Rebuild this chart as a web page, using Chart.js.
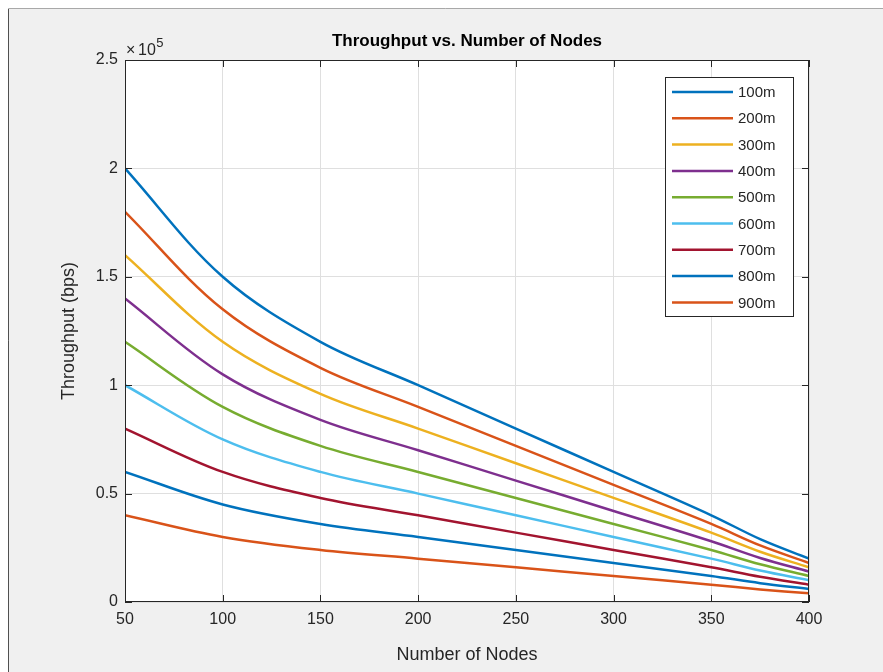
<!DOCTYPE html>
<html>
<head>
<meta charset="utf-8">
<style>
  html, body { margin: 0; padding: 0; background: #ffffff; }
  #wrap { width: 883px; height: 672px; }
</style>
<script src="https://cdn.jsdelivr.net/npm/chart.js@4/dist/chart.umd.min.js"></script>
</head>
<body>
<div id="wrap"><canvas id="chart" width="883" height="672"></canvas></div>
<script>
// Number of nodes (x) and throughput in bps for each transmission range
const nodes = [50, 100, 150, 200, 250, 300, 350, 375, 400];
const seriesNames = ['100m', '200m', '300m', '400m', '500m', '600m', '700m', '800m', '900m'];
const thr100 = [200000, 150000, 120000, 100000, 80000, 60000, 40000, 29000, 20000];
const thr200 = [180000, 135000, 108000, 90000, 72000, 54000, 36000, 26100, 18000];
const thr300 = [160000, 120000, 96000, 80000, 64000, 48000, 32000, 23200, 16000];
const thr400 = [140000, 105000, 84000, 70000, 56000, 42000, 28000, 20300, 14000];
const thr500 = [120000, 90000, 72000, 60000, 48000, 36000, 24000, 17400, 12000];
const thr600 = [100000, 75000, 60000, 50000, 40000, 30000, 20000, 14500, 10000];
const thr700 = [80000, 60000, 48000, 40000, 32000, 24000, 16000, 11600, 8000];
const thr800 = [60000, 45000, 36000, 30000, 24000, 18000, 12000, 8700, 6000];
const thr900 = [40000, 30000, 24000, 20000, 16000, 12000, 8000, 5800, 4000];
const xTicks = [50, 100, 150, 200, 250, 300, 350, 400];
const yTicks = [0, 50000, 100000, 150000, 200000, 250000];

const allSeries = [thr100, thr200, thr300, thr400, thr500, thr600, thr700, thr800, thr900];
const colors = ['#0072BD', '#D95319', '#EDB120', '#7E2F8E', '#77AC30',
                '#4DBEEE', '#A2142F', '#0072BD', '#D95319'];

const FONT = '"Liberation Sans", Arial, Helvetica, sans-serif';
const INK = '#262626';
const LINE_W = 2.5;

const datasets = allSeries.map((vals, i) => ({
  label: seriesNames[i],
  data: nodes.map((n, k) => ({ x: n, y: vals[k] })),
  borderColor: colors[i],
  backgroundColor: colors[i],
  borderWidth: LINE_W,
  pointRadius: 0,
  fill: false,
  tension: 0.35
}));

// Figure frame, axes box, inward ticks, texts and the legend
const decor = {
  id: 'decor',
  beforeDraw(chart) {
    const c = chart.ctx;
    c.save();
    c.fillStyle = '#ffffff';
    c.fillRect(0, 0, chart.width, chart.height);
    c.fillStyle = '#f0f0f0';
    c.fillRect(8, 8, chart.width - 8, chart.height - 8);
    c.strokeStyle = '#a8a8a8';
    c.lineWidth = 1;
    c.beginPath();
    c.moveTo(8.5, chart.height); c.lineTo(8.5, 8.5); c.lineTo(chart.width, 8.5);
    c.stroke();
    c.strokeStyle = '#505050';
    c.beginPath();
    c.moveTo(8.5, 9); c.lineTo(8.5, chart.height);
    c.stroke();
    const a = chart.chartArea;
    c.fillStyle = '#ffffff';
    c.fillRect(a.left, a.top, a.right - a.left, a.bottom - a.top);
    c.restore();
  },
  afterDatasetsDraw(chart) {
    const c = chart.ctx;
    const a = chart.chartArea;
    const xs = chart.scales.x, ys = chart.scales.y;
    c.save();
    // axes box
    c.strokeStyle = INK;
    c.lineWidth = 1;
    c.strokeRect(Math.round(a.left) + 0.5, Math.round(a.top) + 0.5,
                 Math.round(a.right - a.left) - 1, Math.round(a.bottom - a.top) - 1);
    // inward ticks on all four sides
    const tl = 7;
    c.beginPath();
    xTicks.forEach(v => {
      const px = Math.round(xs.getPixelForValue(v)) + 0.5;
      c.moveTo(px, a.bottom); c.lineTo(px, a.bottom - tl);
      c.moveTo(px, a.top); c.lineTo(px, a.top + tl);
    });
    yTicks.forEach(v => {
      const py = Math.round(ys.getPixelForValue(v)) + 0.5;
      c.moveTo(a.left, py); c.lineTo(a.left + tl, py);
      c.moveTo(a.right, py); c.lineTo(a.right - tl, py);
    });
    c.stroke();

    // legend
    const lx = 665, ly = 77, lw = 128, lh = 239;
    c.fillStyle = '#ffffff';
    c.fillRect(lx, ly, lw, lh);
    c.strokeStyle = INK;
    c.strokeRect(lx + 0.5, ly + 0.5, lw, lh);
    c.font = '15px ' + FONT;
    c.textAlign = 'left';
    c.textBaseline = 'middle';
    datasets.forEach((d, i) => {
      const yy = ly + 15 + i * 26.3;
      c.strokeStyle = d.borderColor;
      c.lineWidth = LINE_W;
      c.beginPath();
      c.moveTo(672, yy); c.lineTo(733, yy);
      c.stroke();
      c.fillStyle = INK;
      c.fillText(d.label, 738, yy + 1);
    });
    c.restore();
  },
  afterDraw(chart) {
    const c = chart.ctx;
    const a = chart.chartArea;
    c.save();
    c.fillStyle = '#000000';
    c.textAlign = 'center';
    c.textBaseline = 'middle';
    c.font = 'bold 17px ' + FONT;
    c.fillText('Throughput vs. Number of Nodes', (a.left + a.right) / 2, 41);

    c.fillStyle = INK;
    c.font = '18px ' + FONT;
    c.fillText('Number of Nodes', (a.left + a.right) / 2, 655);

    c.save();
    c.translate(69, (a.top + a.bottom) / 2);
    c.rotate(-Math.PI / 2);
    c.fillText('Throughput (bps)', 0, 0);
    c.restore();

    // exponent marker
    c.textAlign = 'left';
    c.textBaseline = 'alphabetic';
    c.font = '16px ' + FONT;
    c.fillText('\u00d7', 126, 55);
    c.fillText('10', 138, 55);
    const endX = 138 + c.measureText('10').width;
    c.font = '13px ' + FONT;
    c.fillText('5', endX + 0.5, 47);
    c.restore();
  }
};

new Chart(document.getElementById('chart'), {
  type: 'line',
  data: { datasets },
  options: {
    responsive: false,
    animation: false,
    devicePixelRatio: 1,
    layout: { padding: { top: 60, right: 74, bottom: 0, left: 0 } },
    plugins: {
      legend: { display: false },
      tooltip: { enabled: false },
      title: { display: false }
    },
    scales: {
      x: {
        type: 'linear',
        min: 50, max: 400,
        afterFit(s) { s.height = 70; },
        afterBuildTicks(s) { s.ticks = xTicks.map(v => ({ value: v })); },
        ticks: {
          color: INK, padding: 8,
          font: { family: FONT, size: 16 },
          maxRotation: 0,
          callback: v => String(v)
        },
        grid: { color: '#dfdfdf', lineWidth: 1, drawTicks: false },
        border: { display: false }
      },
      y: {
        type: 'linear',
        min: 0, max: 250000,
        afterFit(s) { s.width = 125; },
        afterBuildTicks(s) { s.ticks = yTicks.map(v => ({ value: v })); },
        ticks: {
          color: INK, padding: 7,
          font: { family: FONT, size: 16 },
          callback: v => String(v / 100000)
        },
        grid: { color: '#dfdfdf', lineWidth: 1, drawTicks: false },
        border: { display: false }
      }
    }
  },
  plugins: [decor]
});
</script>
</body>
</html>
